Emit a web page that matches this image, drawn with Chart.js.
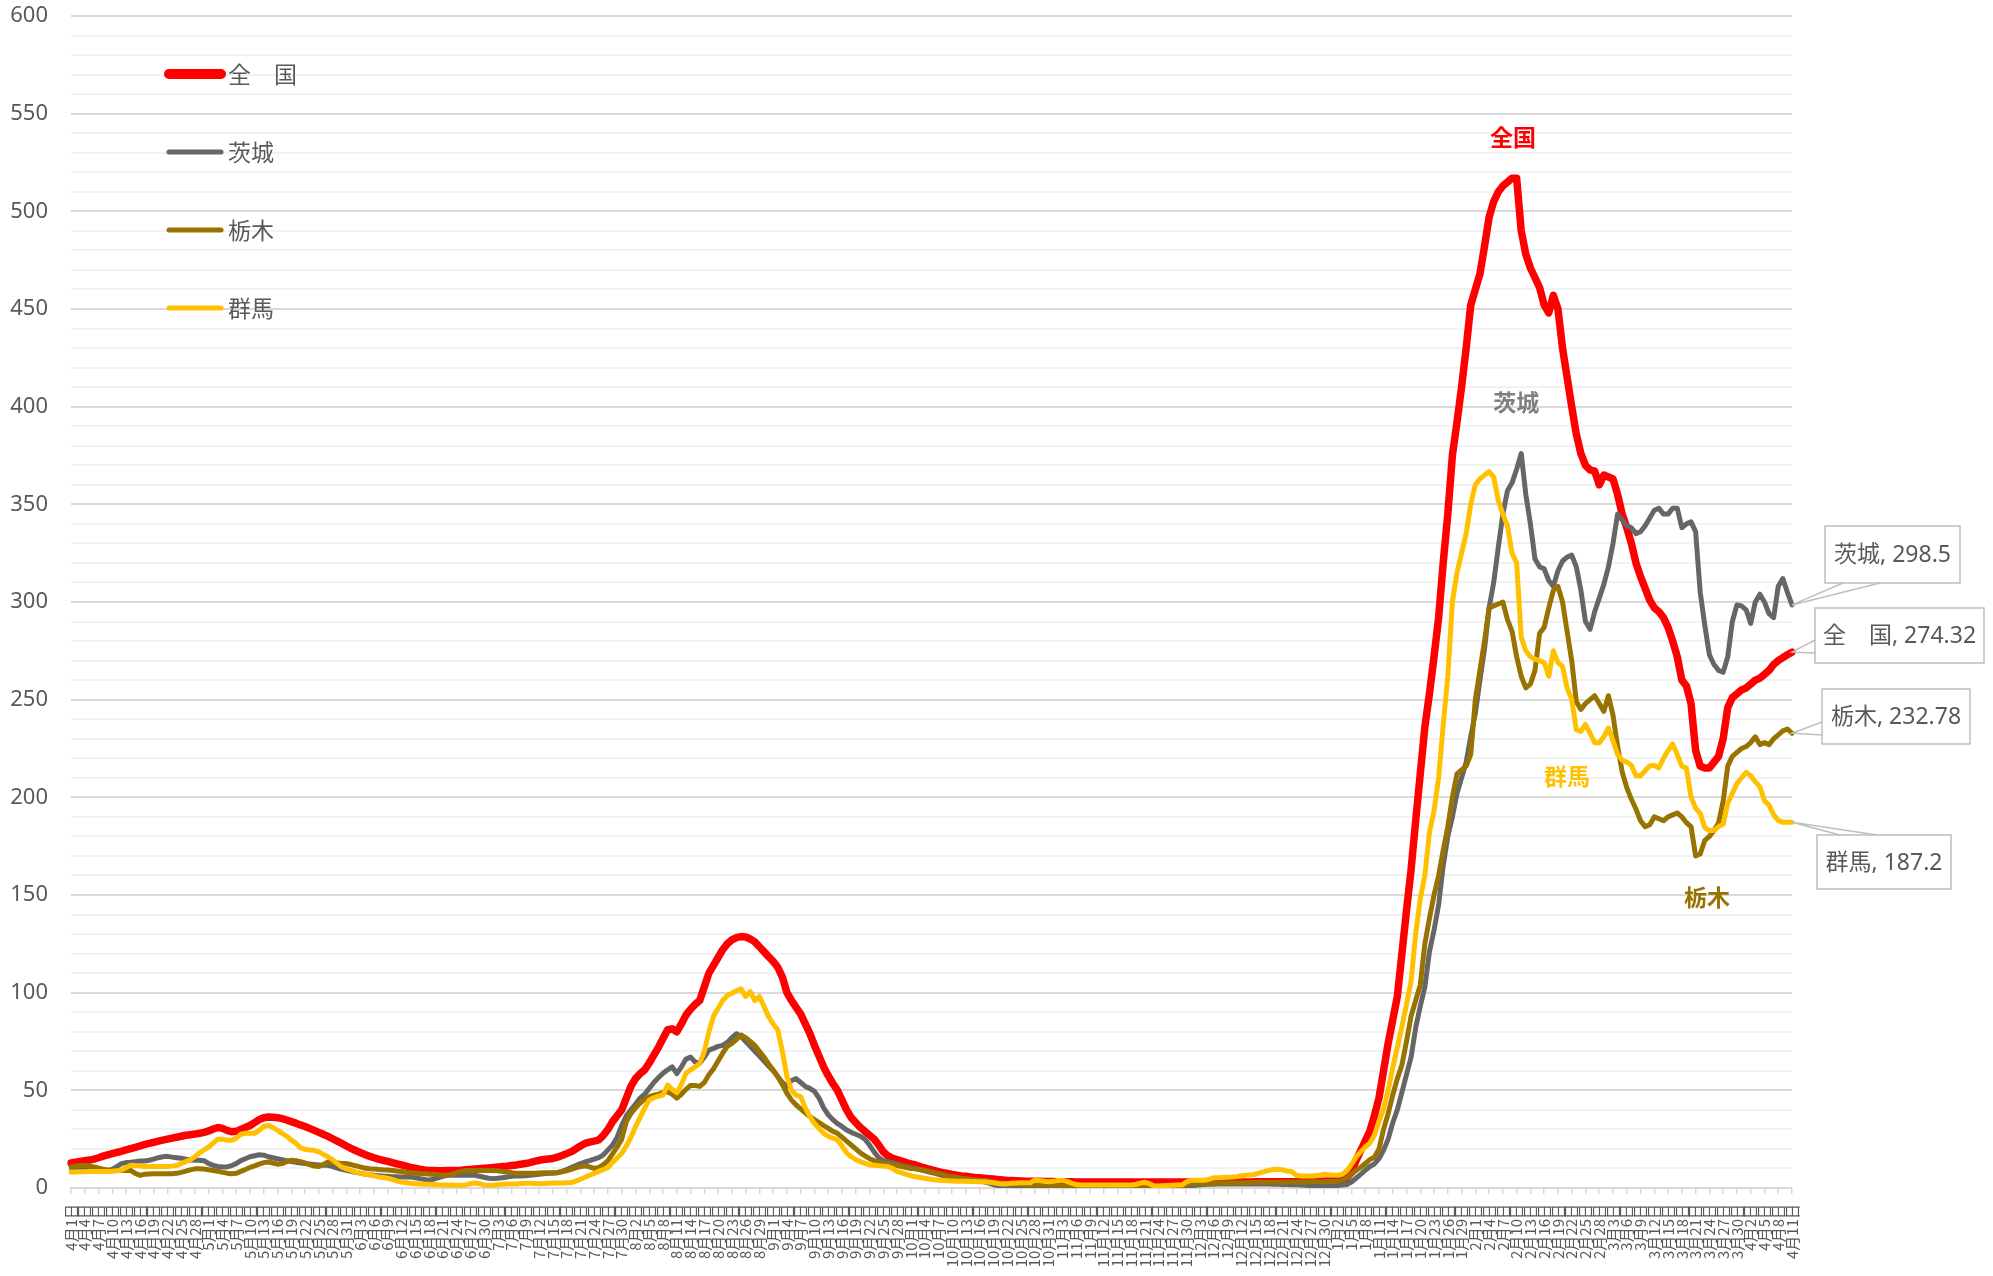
<!DOCTYPE html>
<html>
<head>
<meta charset="utf-8">
<script src="https://cdn.jsdelivr.net/npm/chart.js@4.4.1/dist/chart.umd.min.js"></script>
<style>
  html, body { margin: 0; padding: 0; background: #fff; }
  #wrap { width: 1993px; height: 1276px; position: relative; }
</style>
</head>
<body>
<div id="wrap"><canvas id="chart"></canvas></div>
<script>
// 2021/4/1 .. 2022/4/11, one point per day
const firstDay = new Date(2021, 3, 1);
const dayCount = 376;

const seriesNames = ['全　国', '茨城', '栃木', '群馬'];
const seriesColors = ['#ff0000', '#666666', '#997300', '#ffc000'];

const zenkoku = [
  12.8,13.2,13.6,14,14.3,14.8,15.5,16.3,17,17.6,
  18.2,18.8,19.5,20.2,20.8,21.5,22.2,22.8,23.4,24,
  24.5,25,25.5,26,26.5,27,27.3,27.6,28,28.5,
  29.2,30.2,31,30.5,29.5,28.8,29,30,31,32,
  33.5,35,36,36.3,36.2,36,35.5,34.8,34,33.2,
  32.3,31.5,30.5,29.5,28.5,27.5,26.4,25.2,24,22.8,
  21.5,20.3,19.2,18.2,17.2,16.3,15.5,14.8,14.2,13.6,
  13,12.4,11.8,11.2,10.6,10.1,9.6,9.2,9,8.9,
  8.8,8.8,8.9,9,9,9.1,9.3,9.5,9.7,9.9,
  10.1,10.3,10.5,10.7,11,11.2,11.5,11.8,12.2,12.5,
  13,13.6,14.2,14.6,14.8,15.1,15.8,16.6,17.6,18.6,
  20,21.5,22.8,23.5,24,24.6,27,30,34,37,
  40,46,52,56,58.5,60.5,64,68,72,76.5,
  81,81.5,80,84,88.5,91.5,94,96,103,110,
  114,118,122,125,127,128.2,128.7,128.5,127.5,126,
  123.5,121,118.4,116,113,108,100,96,92.5,89,
  84,79,73,67.5,62,57.5,53.5,50,45,40,
  36,33.5,31,29,27,25,22,18.5,16.5,15.2,
  14.5,13.8,13,12.4,11.8,11,10.3,9.6,9,8.4,
  7.8,7.4,7,6.6,6.2,6,5.7,5.4,5.2,5,
  4.8,4.6,4.3,4.1,3.9,3.8,3.7,3.6,3.5,3.5,
  3.4,3.4,3.3,3.3,3.3,3.2,3.2,3.2,3.2,3.1,
  3.1,3.1,3.1,3.1,3.1,3.1,3.1,3.1,3.1,3.1,
  3.1,3.1,3.1,3.1,3.1,3.1,3.1,3.1,3.1,3.1,
  3.1,3.1,3.1,3.1,3.1,3.1,3.1,3.1,3.1,3.1,
  3.1,3.1,3.1,3.1,3.1,3.1,3.1,3.1,3.2,3.2,
  3.2,3.2,3.2,3.2,3.2,3.2,3.2,3.2,3.3,3.3,
  3.3,3.4,3.5,3.5,3.6,3.6,3.8,4.2,5,8,
  14,19,24,29,37,46,60,74,86,98,
  120,142,163,188,212,236,253,272,292,320,
  345,375,392,410,430,452,460,468,482,497,
  505,510,513,515,517,517,490,478,471,466,
  461,452,448,457,450,430,415,400,386,376,
  370,367.6,367,360,365,364,363,355,345,338,
  330,320,313,307,301,297,295,292,287,280,
  272,260,257,248,224,216,215,215,218,221,
  230,246,251,253,255,256,258,260,261,263,
  265,268,270,271.5,273,274.32
];

const ibaraki = [
  10.4,10.2,10,9.8,9.6,9.4,9.2,9,9,9.5,
  11,12.5,13,13.2,13.5,13.8,13.8,14.2,14.8,15.5,
  16,16.2,15.8,15.5,15.2,14.8,14.3,14.2,14.2,14,
  12.5,11.6,11,10.8,10.8,11.5,12.5,14,15,16,
  16.5,17,16.8,16,15.5,15,14.5,14,13.5,13.2,
  12.8,12.5,12.3,12,11.8,11.6,11.6,11,10.2,9.6,
  9,8.5,8,7.6,7.2,6.8,6.5,6.3,6.1,6,
  5.8,5.7,5.6,5.6,5.6,5.2,4.8,4.4,4,4.5,
  5.2,6,6.5,6.5,6.5,6.5,6.5,6.5,6.5,6,
  5.5,5,4.8,5,5.3,5.6,6,6.2,6.1,6.3,
  6.5,6.8,7,7.3,7.5,7.5,7.8,8.5,9.5,10.5,
  11.5,12.5,13.3,14,14.8,15.6,17,19.5,22,26,
  32,37,40,43,46,48,51,54,56.5,58.7,
  60.5,62,58.5,62,66,67,64.5,63.8,67,70.6,
  71.5,72.5,73,74.5,77,79,77.5,75,72.5,70,
  67.5,65,62.5,60,57,54,52,55,56,54,
  52,51,49.5,46,41,37.5,35,33,31.5,29.7,
  28.5,27.5,26.5,25,22,18.5,15.5,14,13.5,13,
  12.3,11.5,11,10.5,10,9.4,8.8,8.2,7.6,7,
  6.4,6,5.6,5.2,4.8,4.4,4,3.7,3.4,3.2,
  2.5,1.8,1.2,0.7,0.7,0.7,0.7,0.7,0.7,0.7,
  0.7,0.6,0.6,0.6,0.6,0.6,0.6,0.6,0.6,0.6,
  0.6,0.6,0.6,0.6,0.6,0.6,0.6,0.6,0.6,0.6,
  0.6,0.6,0.6,0.6,0.6,0.6,0.7,0.7,0.7,0.7,
  0.7,0.7,0.7,1,1.2,1.4,1.6,1.8,1.9,1.9,
  2,2,2,2.1,2.1,2.1,2.1,2.1,2.1,2,
  2,2,1.9,1.9,1.8,1.8,1.7,1.6,1.5,1.4,
  1.3,1.2,1.2,1.1,1.1,1.2,1.3,1.5,1.8,3,
  5,7,9,11,12.3,15,19.3,25,33.4,40,
  49,58,67,82,93,103,121,132,145,165,
  180,190,202,210,218,231,243,260,276,297,
  310,328,345,357,361,368,376,355,340,322,
  318,317,311,308,316,321,323,324,318,306,
  290,286,295,302,309,318,330,345,342,339,
  338,335,336,339,343,347,348,345,345,348,
  348,338,340,341,336,305,288,273,268,265,
  264,272,290,298.5,298,296,289,300,304,300,
  294,292,308,312,305,298.5
];

const tochigi = [
  10.8,11.2,11.5,11.6,11.3,10.8,10.2,9.6,9.2,9,
  9,9,9,9,7.5,6.5,7,7.2,7.3,7.3,
  7.3,7.3,7.3,7.5,8,8.6,9.3,9.8,9.9,9.7,
  9.3,9,8.6,8,7.6,7.3,7.5,8.5,9.5,10.5,
  11.3,12.2,13,13.3,12.8,12.2,12.5,13.5,14.2,14,
  13.5,12.8,12,11.2,11,12,13.3,13,12.8,12.6,
  12.5,12,11.4,10.8,10.2,9.9,9.7,9.5,9.3,9.2,
  9,8.7,8.4,8.1,7.8,7.6,7.4,7.3,7.1,7,
  6.8,6.6,6.5,7,7.8,8.5,9,9,9,9,
  9,9,9,8.8,8.5,8.2,7.8,7.5,7.5,7.5,
  7.5,7.6,7.7,7.8,7.8,7.8,7.9,8.3,8.8,9.5,
  10.3,11,11.3,10.8,10,10.5,12,14,17.5,21,
  25,34,38,41,43.5,45.5,46.8,47.5,48,48.8,
  49.3,48,46,48,50.5,52.5,52.5,52,54,58,
  61,65,69,72.5,74,76,78.3,77,75,73,
  70,67,63.5,60.5,57,53,48.5,45,42.5,40.5,
  38.5,36.5,35,33.5,32,30.5,29,28,26,24,
  22,20,18,16.5,15,14,13.2,12.6,12.3,12.1,
  11.5,11,10.5,10,9.8,9.5,9,8.5,8,7.5,
  6.8,6.2,5.8,5.4,5,4.7,4.4,4.2,4,3.9,
  3.5,3,2.6,2.4,2.2,2,1.9,1.8,1.7,1.6,
  1.5,1.5,1.5,1.5,1.4,1.3,1.2,1.1,1,1,
  1,1,1,1,1,1,1,1,1,1,
  1,1,1,1,1,1,1,1,1,1,
  1,1,1,1.8,2.4,2.4,2.4,2.4,2.4,2.4,
  2.4,2.5,2.5,2.6,2.6,2.7,2.7,2.8,2.8,2.9,
  2.9,3,3,3,3,3.1,3.1,3.1,3.1,3.1,
  3.2,3.2,3.2,3.2,3.3,3.3,3.4,4,5,7,
  9,10.5,12.5,14.5,15.8,20,30,38,47.5,56,
  63,75,88,96,104,125,138,150,160,173,
  185,200,212,214,216,222,250,265,280,297,
  298,299,300,291,285,272,262,256,258,265,
  284,287,297,306,308,300,285,270,249,245,
  248,250,252,248,244,252,242,226,213,205,
  199,194,188,185,186,190,189,188,190,191,
  192,190,187,185,170,171,178,180,183,187,
  198,216,221,223,225,226,228,231,227,228,
  227,230,232,234,235,232.78
];

const gunma = [
  8.2,8.2,8.3,8.3,8.4,8.4,8.5,8.5,8.5,8.6,
  8.8,9.2,10.5,11.6,11.5,11.2,11,11,11,11,
  11,11,11.2,11.5,12.5,13.5,14.5,16,18,19.5,
  21,23,25,25,24.5,24.4,25.5,27.5,28,28,
  28,29.5,31.5,32,31,29.5,28,26.5,24.5,23,
  20.5,19.8,19.5,19.3,18.5,17.2,16,14.5,12.5,10.8,
  9.8,9,8.2,7.6,7.2,6.8,6.2,5.7,5.4,5,
  4.4,3.6,3,2.7,2.4,2.2,2,1.9,1.9,1.8,
  1.7,1.6,1.5,1.5,1.4,1.4,1.6,2.2,2.6,2.2,
  1.6,1.4,1.5,1.7,1.9,2,2,2.1,2.3,2.4,
  2.4,2.3,2.2,2.3,2.4,2.5,2.6,2.6,2.7,2.7,
  3.5,4.5,5.5,6.5,7.5,8.5,9.5,10.5,13,15.5,
  17.7,21.5,26,31.4,36,41,45,46.2,47,47.6,
  52.7,50.5,48.8,53,58.7,60.5,62,63.8,70,80,
  88,92,96,98.5,99.7,101,102,98,100.5,96,
  98,93,87.7,84,81,70,57,50,47.5,46.8,
  41,36.5,33,30.5,28,26.5,25.5,24.6,21.5,18,
  16,14.5,13.5,12.6,11.8,11.6,11.4,11.2,11,10,
  8.5,7.8,7,6.3,5.8,5.4,5,4.6,4.2,4,
  3.8,3.7,3.6,3.5,3.4,3.4,3.3,3.3,3.2,3.2,
  3,2.7,2.3,2,2.2,2.4,2.6,2.7,2.7,2.7,
  4,3.8,3.5,3.2,3.4,3.8,4,3.4,2.5,1.8,
  1.5,1.5,1.5,1.5,1.5,1.5,1.5,1.5,1.5,1.5,
  1.5,1.5,1.8,2.5,2.9,2.2,1,1,1.2,1.3,
  1.4,1.5,1.5,3,4,4,4,4,4.5,5.2,
  5.3,5.4,5.5,5.6,5.8,6.3,6.6,6.6,7,7.8,
  8.4,9,9.5,9.6,9.2,8.6,8.4,6.5,6.1,6.1,
  6.1,6.1,6.5,7,6.8,6.6,6.5,7,8.8,12,
  15.8,18.5,21,22.9,27,34,40.4,50,61.5,72,
  82.6,94,106,130,148,160,182,193,210,237,
  262,300,315,325,335,350,360,363,365,366.7,
  364,352,345,339,325,320,282,275,272,270.7,
  270,269,262,275,269,267,256,250,234.6,233.7,
  237.3,232.8,228,228,231,235.5,229,222,219,218,
  216.4,211,211,213.7,216,216.4,215,220,224,227.3,
  221.9,216,215,200,194.5,191.8,184.5,183,183,185,
  186.3,197,202,207,210,212.8,211,208,205.5,198.2,
  196,191,188.2,187.2,187.2,187.2
];

const yTicks = { min: 0, max: 600, minor: 10, major: 50 };

const labels = [];
for (let i = 0; i < dayCount; i++) {
  const d = new Date(firstDay.getFullYear(), firstDay.getMonth(), firstDay.getDate() + i);
  labels.push((d.getMonth() + 1) + '月' + d.getDate() + '日');
}
[zenkoku, ibaraki, tochigi, gunma].forEach((s, k) => {
  if (s.length !== dayCount) console.error(seriesNames[k] + ' length ' + s.length);
});

const TEXT = '#595959';
const JP = "'Noto Sans CJK JP', 'Noto Sans', sans-serif";
const NUM = "'Noto Sans', 'Noto Sans CJK JP', sans-serif";

// legend, series tags and end-of-line callouts
const overlay = {
  id: 'overlay',
  afterDraw(chart) {
    const ctx = chart.ctx;
    const xs = chart.scales.x, ys = chart.scales.y;
    ctx.save();

    // legend in the upper left
    const lw = [10, 5, 5, 5];
    seriesNames.forEach((name, k) => {
      const y = 74 + k * 78;
      ctx.strokeStyle = seriesColors[k];
      ctx.lineWidth = lw[k];
      ctx.lineCap = 'round';
      ctx.beginPath();
      ctx.moveTo(169, y);
      ctx.lineTo(221, y);
      ctx.stroke();
      ctx.fillStyle = TEXT;
      ctx.font = '23px ' + JP;
      ctx.textBaseline = 'middle';
      ctx.textAlign = 'left';
      ctx.fillText(name, 228, y);
    });

    // bold tags near the curves
    const tags = [
      ['全国', '#ff0000', 314.2, 538],
      ['茨城', '#7f7f7f', 314.9, 402],
      ['群馬', '#ffc000', 326, 211],
      ['栃木', '#997300', 356.5, 149]
    ];
    ctx.font = 'bold 23px ' + JP;
    ctx.textAlign = 'center';
    tags.forEach(t => {
      ctx.fillStyle = t[1];
      ctx.fillText(t[0], xs.getPixelForValue(t[2]), ys.getPixelForValue(t[3]));
    });

    // callouts for the last value
    const last = dayCount - 1;
    const px = xs.getPixelForValue(last);
    const boxes = [
      { s: ibaraki, txt: '茨城, ' + ibaraki[last], x: 1825, y: 526, w: 135, h: 57, base: [[1843, 583], [1880, 583]] },
      { s: zenkoku, txt: '全　国, ' + zenkoku[last], x: 1815, y: 608, w: 169, h: 55, base: [[1815, 640], [1815, 653]] },
      { s: tochigi, txt: '栃木, ' + tochigi[last], x: 1822, y: 689, w: 148, h: 55, base: [[1822, 722], [1822, 735]] },
      { s: gunma, txt: '群馬, ' + gunma[last], x: 1817, y: 835, w: 134, h: 54, base: [[1840, 835], [1877, 835]] }
    ];
    ctx.font = '23px ' + NUM;
    boxes.forEach(b => {
      const py = ys.getPixelForValue(b.s[last]);
      ctx.strokeStyle = '#bfbfbf';
      ctx.lineWidth = 1.5;
      ctx.fillStyle = '#ffffff';
      ctx.fillRect(b.x, b.y, b.w, b.h);
      ctx.strokeRect(b.x, b.y, b.w, b.h);
      ctx.beginPath();
      ctx.moveTo(b.base[0][0], b.base[0][1]);
      ctx.lineTo(px, py);
      ctx.lineTo(b.base[1][0], b.base[1][1]);
      ctx.stroke();
      ctx.fillStyle = TEXT;
      ctx.textAlign = 'center';
      ctx.textBaseline = 'middle';
      ctx.fillText(b.txt, b.x + b.w / 2, b.y + b.h / 2 + 1);
    });
    ctx.restore();
  }
};

const mk = (k, data, width, order) => ({
  label: seriesNames[k],
  data: data,
  borderColor: seriesColors[k],
  backgroundColor: seriesColors[k],
  borderWidth: width,
  pointRadius: 0,
  tension: 0,
  fill: false,
  borderJoinStyle: 'round',
  borderCapStyle: 'round',
  order: order
});

new Chart(document.getElementById('chart'), {
  type: 'line',
  data: {
    labels: labels,
    datasets: [
      mk(0, zenkoku, 7.5, 3),
      mk(1, ibaraki, 5, 2),
      mk(2, tochigi, 5, 1),
      mk(3, gunma, 5, 0)
    ]
  },
  options: {
    responsive: true,
    maintainAspectRatio: false,
    animation: false,
    layout: { padding: { top: 16, right: 201, left: 0, bottom: 0 } },
    plugins: { legend: { display: false }, tooltip: { enabled: false } },
    scales: {
      x: {
        offset: false,
        afterFit: s => { s.height = 88; s.paddingLeft = 0; s.paddingRight = 0; },
        border: { display: true, color: '#d9d9d9', width: 2 },
        grid: { drawOnChartArea: false, drawTicks: true, tickLength: 6, color: '#d9d9d9', lineWidth: 1.5 },
        ticks: {
          autoSkip: false,
          minRotation: 90,
          maxRotation: 90,
          padding: 10,
          color: TEXT,
          font: { family: JP, size: 15 },
          callback: (v, i) => (i % 3 === 0 ? labels[i] : null)
        }
      },
      y: {
        min: yTicks.min,
        max: yTicks.max,
        afterFit: s => { s.width = 71; s.paddingTop = 0; s.paddingBottom = 0; },
        border: { display: false },
        grid: {
          drawTicks: false,
          lineWidth: 2,
          color: c => (c.tick && c.tick.value % yTicks.major === 0 ? '#d9d9d9' : '#f2f2f2')
        },
        ticks: {
          stepSize: yTicks.minor,
          maxTicksLimit: 100,
          autoSkip: false,
          padding: 23,
          color: TEXT,
          font: { family: NUM, size: 22 },
          callback: v => (v % yTicks.major === 0 ? v : '')
        }
      }
    }
  },
  plugins: [overlay]
});
</script>
</body>
</html>
